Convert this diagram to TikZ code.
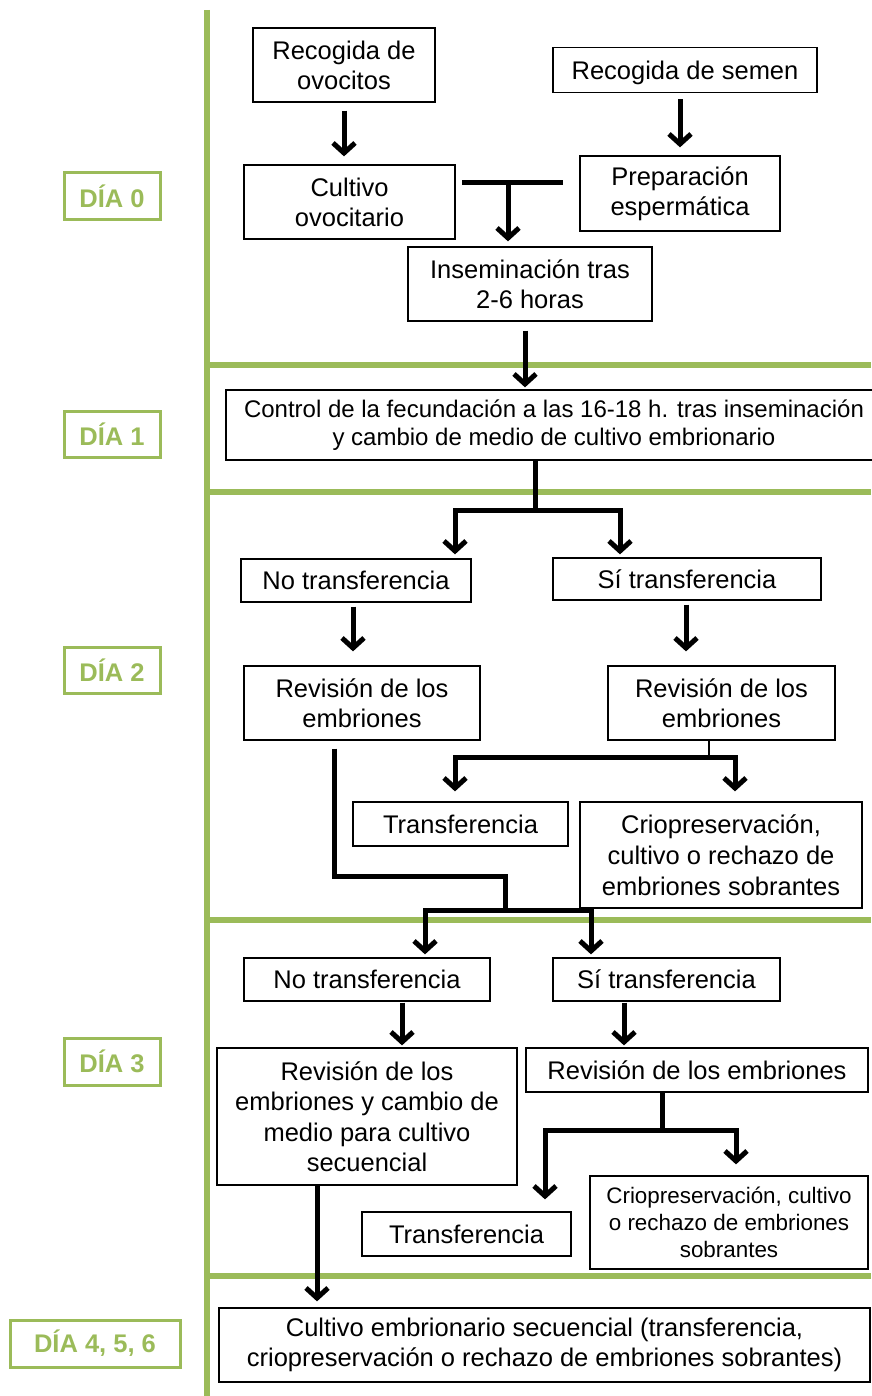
\documentclass[tikz,border=0pt]{standalone}
\usepackage{fontspec}
\setmainfont{Liberation Sans}
\usetikzlibrary{arrows.meta}
\definecolor{dgreen}{HTML}{9BBB59}
\begin{document}
\begin{tikzpicture}[x=1pt,y=-1pt,
  box/.style={draw=black, line width=1.3pt, fill=white, inner sep=0pt, align=center,
    font=\fontsize{25.5}{30}\selectfont},
  smallbox/.style={box, font=\fontsize{22.4}{27}\selectfont},
  daybox/.style={draw=dgreen, line width=3pt, inner sep=0pt, text=dgreen,
    font=\bfseries\fontsize{25.5}{30}\selectfont},
  conn/.style={line width=5pt, line join=miter},
  arr/.style={conn, -{Straight Barb[length=10pt,width=22pt]}},
  grn/.style={draw=dgreen, line width=6pt}]
\useasboundingbox (0,0) rectangle (871,1396);

% green grid
\draw[grn] (207,10) -- (207,1396);
\foreach \yy in {365,492,920,1276} \draw[grn] (207,\yy) -- (871,\yy);

% day labels
\node[daybox, minimum width=96pt, minimum height=47pt] (d0) at (112,196.5) {DÍA 0};
\node[daybox, minimum width=96pt, minimum height=46pt] (d1) at (112,434) {DÍA 1};
\node[daybox, minimum width=96pt, minimum height=46pt] (d2) at (112,670) {DÍA 2};
\node[daybox, minimum width=96pt, minimum height=47pt] (d3) at (112,1061.5) {DÍA 3};
\node[daybox, minimum width=170pt, minimum height=47pt] (d4) at (95,1343.5) {DÍA 4, 5, 6};

% boxes
\node[box, minimum width=182pt, minimum height=74pt] (ovo) at (344,65) {Recogida de\\ovocitos};
\node[box, minimum width=264pt, minimum height=45pt, text depth=0pt] (semen) at (685,70) {Recogida de semen};
\node[box, minimum width=211pt, minimum height=74pt] (cult) at (349.5,202) {Cultivo\\ovocitario};
\node[box, minimum width=200pt, minimum height=75pt] (prep) at (680,193.5) {Preparación\\espermática};
\node[box, minimum width=244pt, minimum height=74pt] (insem) at (530,284) {Inseminación tras\\2-6 horas};
\node[box, minimum width=656pt, minimum height=70pt, font=\fontsize{24}{28}\selectfont] (control) at (554,425)
  {Control de la fecundación a las 16-18 h. tras inseminación\\y cambio de medio de cultivo embrionario};
\node[box, minimum width=230pt, minimum height=43pt] (no1) at (356,580.5) {No transferencia};
\node[box, minimum width=268pt, minimum height=42pt] (si1) at (687,579) {Sí transferencia};
\node[box, minimum width=236pt, minimum height=74pt] (rev1L) at (362,703) {Revisión de los\\embriones};
\node[box, minimum width=227pt, minimum height=74pt] (rev1R) at (721.5,703) {Revisión de los\\embriones};
\node[box, minimum width=215pt, minimum height=44pt] (transf1) at (460.5,824) {Transferencia};
\node[box, minimum width=282pt, minimum height=106pt, font=\fontsize{25.5}{31}\selectfont] (crio1) at (721,855)
  {Criopreservación,\\cultivo o rechazo de\\embriones sobrantes};
\node[box, minimum width=246pt, minimum height=43pt] (no2) at (367,979.5) {No transferencia};
\node[box, minimum width=227pt, minimum height=43pt] (si2) at (666.5,979.5) {Sí transferencia};
\node[box, minimum width=300pt, minimum height=137pt, font=\fontsize{25.5}{30.5}\selectfont] (rev2L) at (367,1116.5)
  {Revisión de los\\embriones y cambio de\\medio para cultivo\\secuencial};
\node[box, minimum width=342pt, minimum height=44pt] (rev2R) at (697,1070) {Revisión de los embriones};
\node[box, minimum width=209pt, minimum height=44pt] (transf2) at (466.5,1234) {Transferencia};
\node[smallbox, minimum width=278pt, minimum height=93pt] (crio2) at (729,1222.5)
  {Criopreservación, cultivo\\o rechazo de embriones\\sobrantes};
\node[box, minimum width=651pt, minimum height=74pt] (final) at (544.5,1345)
  {Cultivo embrionario secuencial (transferencia,\\criopreservación o rechazo de embriones sobrantes)};

% helper coordinates
\coordinate (tl) at (462,183);
\coordinate (tr) at (563,183);
\coordinate (tm) at (508,183);
\coordinate (x525) at (525,0);
\coordinate (s1) at (535,510);
\coordinate (s1L) at (455,510);
\coordinate (s1R) at (620,510);
\coordinate (x353) at (353,0);
\coordinate (x686) at (686,0);
\coordinate (s2) at (709,757);
\coordinate (s2L) at (455,757);
\coordinate (s2R) at (735,757);
\coordinate (x334) at (334,0);
\coordinate (e1) at (334,876);
\coordinate (e2) at (505,876);
\coordinate (s3) at (505,910);
\coordinate (s3L) at (425,910);
\coordinate (s3R) at (591,910);
\coordinate (x402) at (402,0);
\coordinate (x624) at (624,0);
\coordinate (s4) at (662,1130);
\coordinate (s4L) at (545,1130);
\coordinate (s4R) at (736,1130);
\coordinate (x317) at (317,0);

% connectors
\draw[arr, shorten <=8pt, shorten >=8pt] (ovo.south) -- (ovo.south |- cult.north);
\draw[arr, shorten <=6pt, shorten >=8pt] (semen.south -| prep.north) -- (prep.north);
\draw[conn] (tl) -- (tr);
\draw[arr, shorten >=5pt] (tm) -- (tm |- insem.north);
\draw[arr, shorten <=9pt, shorten >=2pt] (insem.south -| x525) -- (control.north -| x525);
\draw[conn] (control.south -| s1) -- (s1);
\draw[arr, shorten >=4pt] (s1) -| (s1L |- no1.north);
\draw[arr, shorten >=3pt] (s1) -| (s1R |- si1.north);
\draw[arr, shorten <=4pt, shorten >=14pt] (no1.south -| x353) -- (rev1L.north -| x353);
\draw[arr, shorten <=4pt, shorten >=14pt] (si1.south -| x686) -- (rev1R.north -| x686);
\draw[line width=2pt] (rev1R.south -| s2) -- (s2);
\draw[arr, shorten >=10pt] (s2) -| (s2L |- transf1.north);
\draw[arr, shorten >=10pt] (s2) -| (s2R |- crio1.north);
\draw[conn, shorten <=8pt] (rev1L.south -| x334) -- (e1) -- (e2) -- (s3);
\draw[arr, shorten >=3pt] (s3) -| (s3L |- no2.north);
\draw[arr, shorten >=3pt] (s3) -| (s3R |- si2.north);
\draw[arr, shorten <=1pt, shorten >=2pt] (no2.south -| x402) -- (rev2L.north -| x402);
\draw[arr, shorten <=1pt, shorten >=2pt] (si2.south -| x624) -- (rev2R.north -| x624);
\draw[conn] (rev2R.south -| s4) -- (s4);
\draw[arr, shorten >=12pt] (s4) -| (s4L |- transf2.north);
\draw[arr, shorten >=11pt] (s4) -| (s4R |- crio2.north);
\draw[arr, shorten >=6pt] (rev2L.south -| x317) -- (final.north -| x317);
\end{tikzpicture}
\end{document}
